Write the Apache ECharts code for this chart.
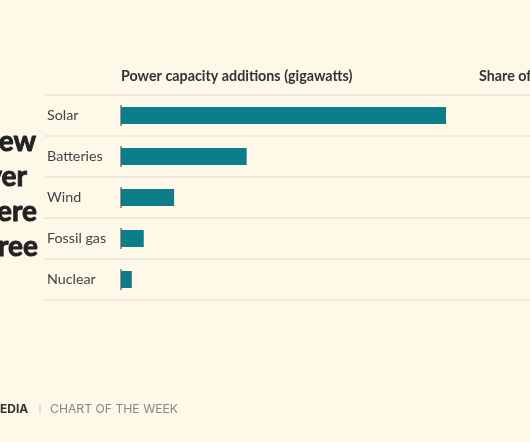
<!DOCTYPE html>
<html>
<head>
<meta charset="utf-8">
<script src="https://cdn.jsdelivr.net/npm/echarts@6/dist/echarts.min.js"></script>
<style>
html,body{margin:0;padding:0;background:#fdf8e7;}
#c{width:530px;height:442px;}
</style>
</head>
<body>
<div id="c"></div>
<script>
const categories = ["Solar", "Batteries", "Wind", "Fossil gas", "Nuclear"];
const capacityGW = [30, 11.6, 4.9, 2.1, 1.0];
const headerText = "Power capacity additions (gigawatts)";
const header2Text = "Share of";
const titleFragments = ["ew", "ver", "ere", "ree"];
const footerBrand = "EDIA";
const footerText = "CHART OF THE WEEK";

const chart = echarts.init(document.getElementById('c'), null, {renderer: 'canvas'});

const titleRight = [36, 27, 37, 38];
const titleY = [142, 177, 212, 247];

const option = {
  backgroundColor: '#fdf8e7',
  animation: false,
  grid: [
    {left: 121, right: 84, top: 95, bottom: 142},
    {left: 45, right: 0, top: 95, bottom: 142}
  ],
  xAxis: [
    {gridIndex: 0, type: 'value', min: 0, max: 30, show: false},
    {gridIndex: 1, type: 'value', min: 0, max: 1, show: false}
  ],
  yAxis: [
    {
      gridIndex: 0, type: 'category', data: categories, inverse: true,
      axisLine: {show: false}, axisTick: {show: false}, splitLine: {show: false},
      axisLabel: {
        align: 'left', margin: 74, color: '#444',
        fontFamily: 'Lato', fontSize: 14.3
      }
    },
    {
      gridIndex: 1, type: 'category', data: categories, inverse: true,
      axisLine: {show: false}, axisTick: {show: false}, axisLabel: {show: false},
      splitLine: {show: true, lineStyle: {color: '#e9e5d8', width: 1.5}}
    }
  ],
  series: [
    {
      type: 'bar', xAxisIndex: 0, yAxisIndex: 0,
      data: capacityGW, barWidth: 17,
      itemStyle: {color: '#0b7e8a'},
      z: 2
    },
    {
      type: 'scatter', xAxisIndex: 0, yAxisIndex: 0,
      data: categories.map(c => [0, c]),
      symbol: 'rect', symbolSize: [1.5, 21],
      itemStyle: {color: '#555'},
      z: 3, silent: true
    }
  ],
  graphic: [
    {type: 'text', x: 121, y: 76, style: {text: headerText, fill: '#333', font: 'bold 14.3px Lato', verticalAlign: 'middle'}},
    {type: 'text', x: 479, y: 76, style: {text: header2Text, fill: '#333', font: 'bold 14.3px Lato', verticalAlign: 'middle'}},
    ...titleFragments.map((t, i) => ({
      type: 'text', x: titleRight[i], y: titleY[i],
      style: {text: t, fill: '#222', font: 'bold 28px Lato', align: 'right', verticalAlign: 'middle',
              stroke: '#222', lineWidth: 0.9}
    })),
    {type: 'text', x: 0, y: 409, style: {text: footerBrand, fill: '#333', font: 'bold 12px Inter', verticalAlign: 'middle'}},
    {type: 'rect', shape: {x: 39.5, y: 404, width: 1, height: 10}, style: {fill: '#ccc'}},
    {type: 'text', x: 50, y: 409, style: {text: footerText, fill: '#888', font: '12.2px Inter', verticalAlign: 'middle'}}
  ]
};
chart.setOption(option);
</script>
</body>
</html>
